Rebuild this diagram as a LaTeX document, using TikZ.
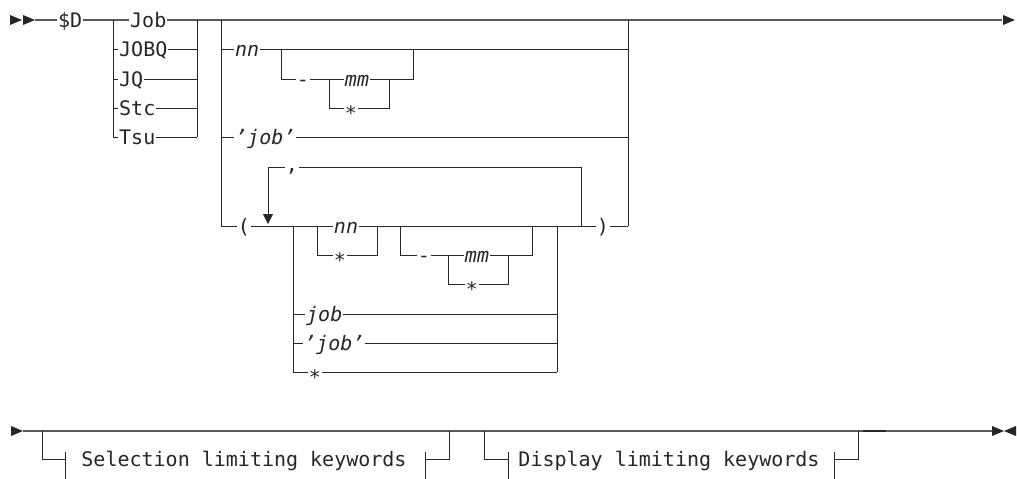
\documentclass[tikz,border=0pt]{standalone}
\usepackage{fontspec}
\setmainfont{DejaVu Sans Mono}
\usetikzlibrary{positioning,arrows.meta}

\newcommand{\railtip}[2]{\fill[black!85] (#1) -- ++(-12*#2,-5) -- ++(0,10) -- cycle;}

\tikzset{
  rail/.style={line width=0.9pt, draw=black!85},
  mainrail/.style={line width=1.2pt, draw=black!65},
  lbl/.style={anchor=base west, yshift=-7.5pt, fill=white, inner sep=1pt,
    text height=15pt, text depth=4pt, text=black!85,
    font=\fontsize{20}{22}\selectfont},
  clbl/.style={lbl, anchor=base},
  starlbl/.style={clbl, yshift=-5pt},
  commalbl/.style={clbl, yshift=3pt},
  keylbl/.style={clbl, fill=none},
}

\begin{document}
\begin{tikzpicture}[x=1pt,y=-1pt]
\useasboundingbox (0,0) rectangle (1017,479);

% main rails
\coordinate (start) at (35,20);
\coordinate (stop) at (1002,20);
\draw[mainrail] (start) -- (stop);
\coordinate (start2) at (23,431);
\coordinate (stop2) at (992,431);
\draw[mainrail] (start2) -- (stop2);
\draw[line width=2pt, black!85] (863,431) -- (886,431);

\railtip{22,20}{1}
\railtip{35,20}{1}
\railtip{1015,20}{1}
\railtip{23,431}{1}
\railtip{1004,431}{1}
\railtip{1004,431}{-1}

% Job / JOBQ / JQ / Stc / Tsu
\coordinate (a1) at (113,20);
\coordinate (a2) at (197,20);
\draw[rail] (a1) -- (a1 |- 0,137);
\draw[rail] (a2) -- (a2 |- 0,137);
\foreach \y in {49,79,108,137}
  \draw[rail] (a1 |- 0,\y) -- (a2 |- 0,\y);

% second choice
\coordinate (b1) at (221,20);
\coordinate (b2) at (628,20);
\draw[rail] (b1) -- (b1 |- 0,226);
\draw[rail] (b2) -- (b2 |- 0,226);
\foreach \y in {49,137,226}
  \draw[rail] (b1 |- 0,\y) -- (b2 |- 0,\y);

% nn - mm
\coordinate (c1) at (281,49);
\coordinate (c2) at (413,49);
\draw[rail] (c1) -- (c1 |- 0,79) -- (c2 |- 0,79) -- (c2);
\coordinate (d1) at (329,79);
\coordinate (d2) at (389,79);
\draw[rail] (d1) -- (d1 |- 0,108) -- (d2 |- 0,108) -- (d2);

% repeat loop
\coordinate (r1) at (268,224);
\coordinate (r2) at (581,226);
\draw[rail,-{Triangle[length=10pt,width=10pt]}] (r2) -- (r2 |- 0,167) -- (r1 |- 0,167) -- (r1);

% choice in the loop
\coordinate (f1) at (293,226);
\coordinate (f2) at (557,226);
\draw[rail] (f1) -- (f1 |- 0,372);
\draw[rail] (f2) -- (f2 |- 0,372);
\foreach \y in {314,343,372}
  \draw[rail] (f1 |- 0,\y) -- (f2 |- 0,\y);
\coordinate (g1) at (317,226);
\coordinate (g2) at (377,226);
\draw[rail] (g1) -- (g1 |- 0,255) -- (g2 |- 0,255) -- (g2);
\coordinate (h1) at (400,226);
\coordinate (h2) at (532,226);
\draw[rail] (h1) -- (h1 |- 0,255) -- (h2 |- 0,255) -- (h2);
\coordinate (k1) at (448,255);
\coordinate (k2) at (508,255);
\draw[rail] (k1) -- (k1 |- 0,284) -- (k2 |- 0,284) -- (k2);

% fragment references
\coordinate (p1) at (42,431);
\coordinate (p1t) at (65,459);
\coordinate (p2) at (449,431);
\coordinate (p2t) at (425,459);
\draw[rail] (p1) |- (p1t) ++(0,-7) -- ++(0,27);
\draw[rail] (p2) |- (p2t) ++(0,-7) -- ++(0,27);
\coordinate (q1) at (484,431);
\coordinate (q1t) at (508,459);
\coordinate (q2) at (858,431);
\coordinate (q2t) at (834,459);
\draw[rail] (q1) |- (q1t) ++(0,-7) -- ++(0,27);
\draw[rail] (q2) |- (q2t) ++(0,-7) -- ++(0,27);

% labels
\node[lbl] (dollarD) at (57,20) {\$D};
\node[lbl] (kwjob) at (129,20) {Job};
\node[lbl] (kwjobq) at (118,49) {JOBQ};
\node[lbl] (kwjq) at (118,79) {JQ};
\node[lbl] (kwstc) at (118,108) {Stc};
\node[lbl] (kwtsu) at (118,137) {Tsu};

\node[lbl] (nn1) at (234,49) {\textit{nn}};
\node[clbl] (dash1) at (303,79) {-};
\node[clbl] (mm1) at (357,79) {\textit{mm}};
\node[starlbl] (star1) at (351,108) {*};
\node[lbl] (qjob1) at (234,137) {\textit{’job’}\hspace{5pt}};

\node[commalbl] (comma) at (292,167) {,};
\node[clbl] (lpar) at (244,226) {(};
\node[clbl] (rpar) at (603,226) {)};

\node[clbl] (nn2) at (346,226) {\textit{nn}};
\node[starlbl] (star2) at (340,255) {*};
\node[clbl] (dash2) at (424,255) {-};
\node[clbl] (mm2) at (477,255) {\textit{mm}};
\node[starlbl] (star3) at (472,284) {*};
\node[lbl] (job2) at (305,314) {\textit{job}};
\node[lbl] (qjob2) at (303,343) {\textit{’job’}\hspace{5pt}};
\node[starlbl] (star4) at (315,372) {*};

\node[keylbl] (selkw) at (244,459) {Selection limiting keywords};
\node[keylbl] (dispkw) at (669,459) {Display limiting keywords};

\end{tikzpicture}
\end{document}
